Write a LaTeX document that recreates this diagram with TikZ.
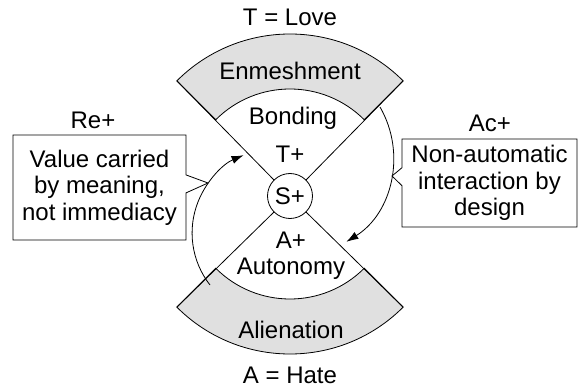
\documentclass[tikz,border=0pt]{standalone}
\usepackage{fontspec}
\setmainfont{Liberation Sans}
\usetikzlibrary{calc,shapes.callouts,arrows.meta}
\definecolor{bandgray}{RGB}{224,224,224}

\begin{document}
\begin{tikzpicture}[x=1pt,y=1pt,line width=0.8pt,
  every node/.style={font=\fontsize{24}{26.5}\selectfont},
  band/.style={draw,fill=bandgray},
  note/.style={rectangle callout,draw,fill=white,align=center,inner sep=2pt,callout pointer width=18pt},
  loop/.style={-{Latex[length=12pt,width=8pt]}}]
\useasboundingbox (-290,-194) rectangle (288,194);
\draw[band] (45:105) arc[start angle=45,end angle=135,radius=105] -- (135:160) arc[start angle=135,end angle=45,radius=160] -- cycle;
\draw[band] (225:105) arc[start angle=225,end angle=315,radius=105] -- (315:160) arc[start angle=315,end angle=225,radius=160] -- cycle;
\node[circle,draw,minimum size=45pt,inner sep=0pt] (S) at (0,-2) {S+};
\foreach \a in {45,135,225,315} \draw (S.\a) -- (\a:160);
\node (love) at (0,177) {T = Love};
\node (enm) at (0,123) {Enmeshment};
\node (bond) at (3,76) {Bonding};
\node (tplus) at (0,40) {T+};
\node (aplus) at (1,-46) {A+};
\node (auto) at (1,-75) {Autonomy};
\node (alien) at (1,-136) {Alienation};
\node (hate) at (0,-181) {A = Hate};
\coordinate (lstart) at (-80,-91);
\coordinate (rstart) at (90,87);
\draw[loop] (lstart) arc[start angle=218,end angle=113,radius=84.5];
\draw[loop] (rstart) arc[start angle=30,end angle=-58,radius=100];
\coordinate (ltip) at (-82,11);
\coordinate (rtip) at (102,18);
\node (reh) at (-197,74) {Re+};
\node[note,minimum width=173pt,minimum height=105pt,callout absolute pointer={(ltip)}] (re) at (-190.5,6.5) {Value carried\\by meaning,\\not immediacy};
\node (ach) at (200,71) {Ac+};
\node[note,minimum width=175pt,minimum height=88pt,callout absolute pointer={(rtip)}] (ac) at (199.5,11) {Non-automatic\\interaction by\\design};
\end{tikzpicture}
\end{document}
